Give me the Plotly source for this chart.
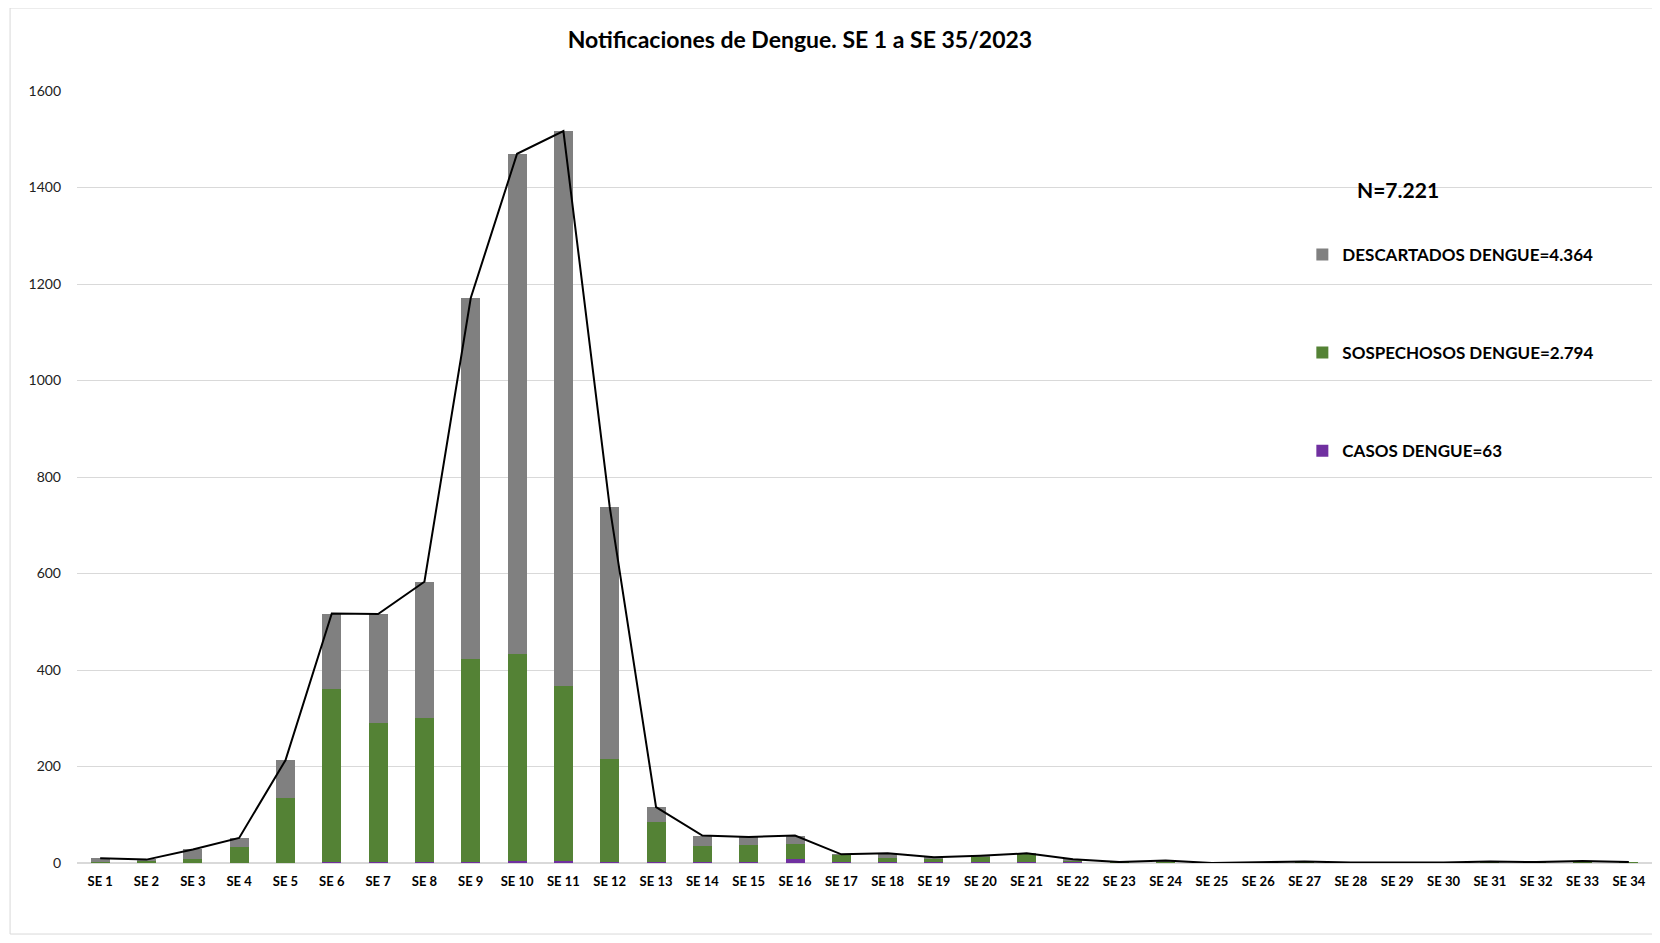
"""Notificaciones de Dengue, SE 1 a SE 35/2023."""
import plotly.graph_objects as go

GRAY = "#808080"
GREEN = "#548235"
PURPLE = "#7030a0"
FONT = "Lato"

semanas = [f"SE {i}" for i in range(1, 35)]
casos = [0, 0, 0, 1, 1, 2, 2, 3, 3, 5, 4, 3, 3, 3, 2, 9, 2, 2, 2, 2,
         2, 4, 1, 1, 0, 1, 1, 0, 0, 0, 1, 0, 2, 1]
sospechosos = [2, 5, 8, 32, 134, 358, 288, 297, 420, 428, 362, 212, 81, 33,
               36, 30, 15, 9, 7, 11, 17, 1, 1, 3, 0, 0, 2, 1, 1, 1, 2, 2, 2, 1]
descartados = [8, 2, 20, 19, 78, 157, 226, 283, 748, 1037, 1151, 523, 32, 21,
               16, 18, 1, 9, 3, 2, 1, 3, 0, 1, 0, 0, 0, 0, 0, 0, 0, 0, 0, 0]
total = [a + b + c for a, b, c in zip(casos, sospechosos, descartados)]

fig = go.Figure()
series = [
    ("CASOS DENGUE=63", casos, PURPLE, 3),
    ("SOSPECHOSOS DENGUE=2.794", sospechosos, GREEN, 2),
    ("DESCARTADOS DENGUE=4.364", descartados, GRAY, 1),
]
for name, values, color, rank in series:
    fig.add_bar(
        x=semanas,
        y=values,
        name=name,
        marker={"color": color, "line": {"width": 0}},
        legendgroup=name,
        legendrank=rank,
    )
fig.add_scatter(
    x=semanas,
    y=total,
    mode="lines",
    line={"color": "black", "width": 2},
    showlegend=False,
    name="Total",
)

fig.add_annotation(
    text="<b>N=7.221</b>",
    x=0.839,
    y=0.873,
    xref="paper",
    yref="paper",
    xanchor="center",
    yanchor="middle",
    showarrow=False,
    font={"family": FONT, "size": 21, "color": "black"},
)
# chart frame: left, top and bottom edges (right edge falls off the page)
fig.add_shape(
    type="path",
    xref="paper",
    yref="paper",
    path="M -0.0425,-0.092 L -0.0425,1.1075 L 1.05,1.1075 "
         "M -0.0425,-0.092 L 1.05,-0.092",
    line={"color": "#d9d9d9", "width": 1},
    layer="below",
)

fig.update_xaxes(
    type="category",
    showgrid=False,
    ticks="",
    tickfont={"family": FONT, "size": 13, "color": "black", "weight": "bold"},
    ticklabelstandoff=9,
    showline=False,
)
fig.update_yaxes(
    range=[0, 1600],
    dtick=200,
    gridcolor="#d9d9d9",
    zerolinecolor="#d9d9d9",
    tickfont={"family": FONT, "size": 14, "color": "#222"},
    ticklabelstandoff=15,
)
fig.update_layout(
    width=1644,
    height=927,
    template="plotly_white",
    barmode="stack",
    bargap=0.59,
    title={
        "text": "<b>Notificaciones de Dengue. SE 1 a SE 35/2023</b>",
        "x": 0.459,
        "xref": "paper",
        "xanchor": "center",
        "y": 1 - 32 / 927,
        "yref": "container",
        "yanchor": "middle",
        "font": {"family": FONT, "size": 23, "color": "black"},
    },
    legend={
        "x": 0.778,
        "y": 0.811,
        "xanchor": "left",
        "yanchor": "top",
        "tracegroupgap": 73,
        "bgcolor": "rgba(0,0,0,0)",
        "font": {"family": FONT, "size": 17, "color": "black", "weight": "bold"},
    },
    margin={"t": 83, "b": 72, "l": 69, "r": 0},
    plot_bgcolor="white",
    paper_bgcolor="white",
)
fig.write_html("out.html")
